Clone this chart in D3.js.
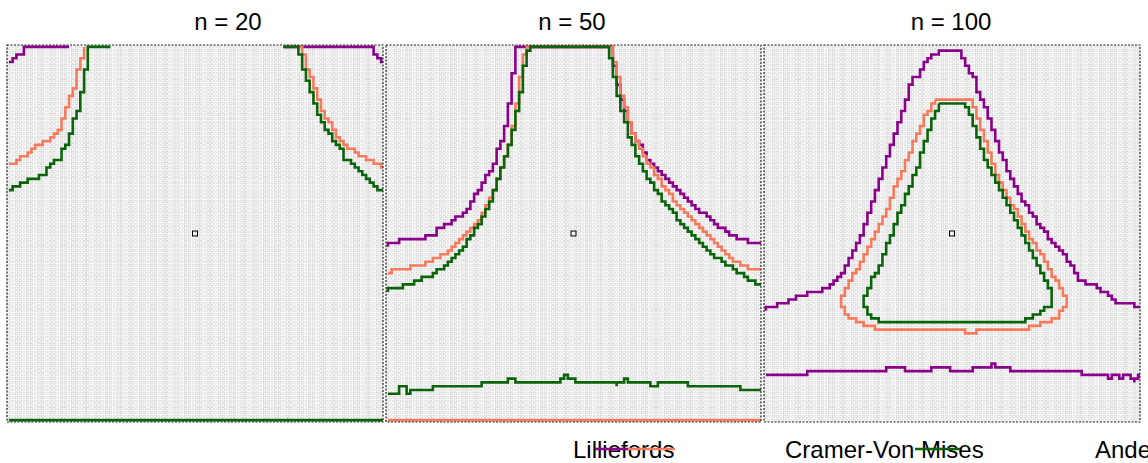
<!DOCTYPE html>
<html>
<head>
<meta charset="utf-8">
<script src="https://cdn.jsdelivr.net/npm/d3@7"></script>
<style>
  body { margin: 0; background: #fff; }
  svg { display: block; font-family: 'Liberation Sans', Arial, sans-serif; }
</style>
</head>
<body>
<div id="chart"></div>
<script>
// Panel titles and legend labels
const panelTitles = ['n = 20', 'n = 50', 'n = 100'];
const testNames = ['Lilliefords', 'Cramer-Von Mises', 'Anderson-Darling'];
const testColors = ['#8b008b', '#f67b5d', '#0a640a'];

// Boundary lines, per panel, per test (each is a list of pieces, grid units 0..100)
const lillie20 = [
  [[0,95.2],[1.5,96.6],[2.7,97.3],[4,98.7],[4.8,99.5],[16.8,99.5]],
  [[73.4,99.5],[97.1,99.5],[97.9,98],[98.7,97],[99.3,96],[100,96]]
];
const cvm20 = [
  [[0,68.2],[2.1,69.5],[4,70.8],[6.1,72.1],[8.8,73.5],[10.9,74.8],[12.8,76.7],[14.1,78.8],[14.9,80.6],[15.7,83.3],[16.5,85.4],[17.3,87.3],[18.1,89.4],[18.6,92],[19.1,94.7],[20,97.3],[20.7,99.5]],
  [[77.9,99.5],[79.3,96],[80.6,92],[81.9,88.1],[82.7,85.4],[83.8,82.8],[85.1,80.1],[86.7,77.5],[88.6,74.8],[90.7,72.7],[93.4,70.8],[96.5,69.5],[100,67.4]]
];
const ad20 = [
  [[0,61.5],[2.9,62.9],[4.8,63.7],[7.4,64.7],[10.1,66.3],[11.4,68.2],[13.3,70],[14.9,72.1],[16,74.8],[17,78],[17.8,80.6],[18.9,82.8],[19.4,85.4],[20.2,88.1],[20.7,90.7],[20.7,93.4],[21.5,95.5],[21.5,98.1],[21.8,99.5],[27.9,99.5]],
  [[73.4,99.5],[77.1,99.5],[77.9,97.3],[78.7,94.7],[79.5,91.2],[80.6,88.1],[81.4,85.4],[82.4,82.2],[83.8,79.6],[85.1,76.9],[86.7,74.3],[88.6,72.1],[89.9,70],[91.2,68.2],[93.4,66.3],[95.2,64.2],[97.1,62.9],[100,60.2]],
  [[0,0.3],[100,0.3]]
];

const lillie50 = [
  [[0,47],[3.7,48.3],[9.1,48.8],[13.1,50.4],[15.7,52.3],[18.4,54.1],[21.1,56.8],[22.9,58.9],[24.5,61.5],[26.4,64.2],[27.7,66.8],[29.1,69.5],[29.9,72.1],[30.9,74.8],[31.7,77.5],[32.5,81.4],[33.1,85.4],[33.6,89.4],[34.1,93.4],[34.4,97.3],[34.9,99.5],
   [59.7,99.5],[60.3,97.3],[61.1,93.4],[61.9,89.4],[62.9,85.4],[64,81.4],[65.1,78],[66.9,74.8],[69.1,70.8],[71.7,67.4],[74.4,64.2],[78.4,60.2],[82.4,56.8],[86.4,53.6],[90.4,50.4],[94.4,48.3],[100,47]]
];
const cvm50 = [
  [[0,39.8],[3.7,40.3],[9.1,41.6],[13.1,43.5],[16.5,45.6],[19.7,48.3],[22.4,51.5],[25.1,54.9],[27.2,58.9],[29.1,62.9],[30.4,66.8],[31.7,70.8],[33.1,74.8],[33.9,78.8],[34.7,82.8],[35.2,86.7],[35.7,90.7],[36.3,94.7],[36.8,97.3],[37.3,99.5],
   [60.3,99.5],[60.8,96],[61.6,92],[62.4,88.1],[63.5,84.1],[64.5,80.1],[65.9,76.1],[67.7,72.1],[69.9,68.2],[72.5,64.2],[75.2,60.2],[78.4,56.2],[82.4,52.3],[86.4,48.3],[90.4,44.3],[94.4,41.6],[100,39.8]],
  [[0,0.1],[100,0.1]]
];
const ad50 = [
  [[0,35],[3.7,35.8],[7.7,37.1],[11.7,39],[15.7,41.6],[19.2,45.1],[21.9,48.3],[24.5,52.3],[26.7,56.2],[28.5,60.2],[29.9,64.2],[31.2,68.2],[32.5,72.1],[33.6,76.1],[34.4,80.1],[35.2,84.1],[36,88.1],[36.5,92],[37.1,95.5],[37.9,98.1],[38.4,99.5],
   [59.2,99.5],[59.7,97.3],[60.5,93.4],[61.3,89.4],[62.1,85.4],[63.2,81.4],[64.3,77.5],[65.6,73.5],[67.2,69.5],[69.1,65.5],[71.7,61.5],[74.4,57.6],[77.9,53.6],[81.1,49.6],[85.1,45.6],[89.1,42.4],[93.1,39.8],[96.5,37.7],[100,35.5]],
  [[0.3,8],[3.7,8],[3.7,9.8],[5.1,9.8],[5.1,8],[7.2,9],[11.7,9],[17.1,9.5],[22.4,9.5],[25.1,10.1],[30.4,10.6],[33.1,11.4],[35.2,10.6],[41.1,10.6],[46.4,11.1],[47.7,12.2],[48.5,11.1],[54.4,10.6],[59.7,10.6],[61.1,9.8],[63.7,11.1],[67.7,10.6],[71.7,9.8],[74.4,10.6],[78.4,10.1],[83.7,9.8],[89.1,9.3],[94.4,9],[100,8.5]]
];

const lillie100 = [
  [[0,29.7],[2.9,30.8],[6.9,32.4],[10.9,33.7],[14.9,35],[18.1,36.9],[20.7,39.8],[22.9,43.5],[24.5,46.9],[26.1,50.9],[27.4,54.9],[28.7,58.9],[30.1,62.9],[31.4,66.8],[32.7,70.8],[34,74.8],[35.4,78.8],[36.7,82.8],[38,86.7],[39.4,90.2],[41,92.8],[42.8,95.5],[44.7,97.3],[46.8,98.7],
   [50.8,98.7],[52.1,97.3],[53.5,95.5],[54.8,92.8],[56.1,90.2],[57.4,86.7],[58.8,83.3],[60.1,79.6],[61.4,75.6],[62.8,71.6],[64.4,67.6],[66,63.7],[68.1,59.7],[70.7,55.7],[73.4,51.5],[76.6,47.5],[80.1,43.5],[82.7,39.8],[84,37.1],[87.2,36.3],[89.9,34.5],[91.5,33.7],[92.6,32.9],[93.9,31.8],[97.9,31.8],[98.7,30.8],[100,31.8]],
  [[0,12.2],[4.3,12.2],[6.9,13],[9.6,12.5],[12.2,13.3],[17.6,13.3],[22.9,13.8],[28.2,13.3],[33.5,14.3],[36.2,14.9],[37.5,13.8],[41.5,13.8],[46.8,14.3],[52.1,13.8],[57.4,14.3],[60.1,15.1],[62.8,14.3],[68.1,13.8],[73.4,13.8],[78.7,13.3],[84,13],[91.5,11.9],[92.8,13],[94.1,11.9],[95.2,13],[97.3,13],[98.1,10.6],[99.2,13],[100,13]]
];
const cvm100 = [
  [[45.5,85.4],[54.8,85.4],[56.1,82.8],[57.4,78.8],[58.8,74.8],[60.1,70.8],[61.4,66.8],[63.3,62.9],[65.4,58.9],[67.6,54.9],[69.7,50.9],[72.1,46.9],[74.7,42.4],[77.4,37.7],[79.5,34.5],[80.3,31],[78.2,27.6],[73.4,25.7],[70.7,24.9],[56.9,24.9],[56.1,23.3],[54.3,23.3],[53.5,24.9],[30.9,24.9],[25.5,26.5],[22.3,28.4],[20.7,31],[20.7,33.7],[22.9,37.7],[25,41.6],[27.1,45.6],[29.3,49.6],[31.4,53.6],[33,57.6],[34.8,62.9],[36.7,66.8],[38.3,70.8],[39.9,74.8],[41.5,78.8],[43.4,82.2],[45.5,85.4]]
];
const ad100 = [
  [[46.8,84.1],[53.5,84.1],[54.8,81.4],[56.1,77.5],[57.4,73.5],[58.8,69.5],[60.6,65.5],[62.8,61.5],[64.9,57.6],[66.8,53.6],[68.9,49.6],[70.7,45.6],[72.9,41.6],[74.7,37.7],[76.1,34.5],[76.1,31],[73.4,28.4],[68.1,26.5],[32.2,26.5],[28.2,28.4],[26.9,31],[26.9,33.7],[28.2,37.1],[30.1,40.8],[31.6,44.3],[33.2,48.3],[34.8,52.3],[36.2,56.2],[37.8,60.2],[39.4,64.2],[41,68.2],[42.3,72.1],[43.6,76.1],[44.9,80.1],[46.8,84.1]]
];

const panelLines = [
  [lillie20, cvm20, ad20],
  [lillie50, cvm50, ad50],
  [lillie100, cvm100, ad100]
];

// Layout
const W = 1148, H = 463;
const panelX = [[7, 383], [386, 761], [764, 1140]];
const panelTop = 45, panelBottom = 422;
const titleX = [228, 572, 951];
const gridN = 100;

// staircase curve: walks between points on the cell grid (cell size in px, origin ox/oy)
function curveStair(ox, oy, sx, sy) {
  function Stair(context) { this._context = context; }
  Stair.prototype = {
    areaStart: function() {},
    areaEnd: function() {},
    lineStart: function() { this._point = 0; },
    lineEnd: function() {},
    point: function(x, y) {
      const snapX = function(v) { return ox + Math.round((v - ox) / sx) * sx; };
      const snapY = function(v) { return oy + Math.round((v - oy) / sy) * sy; };
      if (!this._point) {
        this._point = 1;
        this._cx = snapX(x); this._cy = snapY(y);
        this._context.moveTo(this._cx, this._cy);
      } else {
        const x0 = this._x, y0 = this._y, dx = x - x0, dy = y - y0;
        const n = Math.max(1, Math.round(Math.max(Math.abs(dx) / sx, Math.abs(dy) / sy)));
        for (let k = 1; k <= n; k++) {
          const nx = snapX(x0 + dx * k / n), ny = snapY(y0 + dy * k / n);
          if (nx !== this._cx) { this._context.lineTo(nx, this._cy); this._cx = nx; }
          if (ny !== this._cy) { this._context.lineTo(this._cx, ny); this._cy = ny; }
        }
      }
      this._x = x; this._y = y;
    }
  };
  return function(context) { return new Stair(context); };
}

const svg = d3.select('#chart').append('svg')
  .attr('width', W).attr('height', H);

const gridVals = d3.range(gridN).map(function(i) { return i + 0.5; });
const cells = [];
gridVals.forEach(function(gx, i) {
  gridVals.forEach(function(gy) { cells.push({ x: gx, y: gy, kind: i % 3 }); });
});

panelTitles.forEach(function(title, p) {
  const x = d3.scaleLinear().domain([0, 100]).range(panelX[p]);
  const y = d3.scaleLinear().domain([0, 100]).range([panelBottom, panelTop]);
  const sx = x(1) - x(0), sy = y(0) - y(1);
  const line = d3.line()
    .x(function(d) { return x(d[0]); })
    .y(function(d) { return y(d[1]); })
    .curve(curveStair(x(0) + sx / 2, y(0) - sy / 2, sx, sy));

  const g = svg.append('g');

  g.append('clipPath').attr('id', 'clip' + p)
    .append('rect')
      .attr('x', panelX[p][0]).attr('y', panelTop)
      .attr('width', panelX[p][1] - panelX[p][0]).attr('height', panelBottom - panelTop);

  // background grid of points
  const cellSize = 2.4;
  g.append('g').selectAll('.pt')
    .data(cells)
    .enter()
    .append(function(d) {
      return document.createElementNS('http://www.w3.org/2000/svg', d.kind === 1 ? 'circle' : 'rect');
    })
      .each(function(d) {
        const el = d3.select(this);
        if (d.kind === 1) {
          el.attr('cx', x(d.x)).attr('cy', y(d.y)).attr('r', 1.2);
        } else {
          el.attr('x', x(d.x) - cellSize / 2).attr('y', y(d.y) - cellSize / 2)
            .attr('width', cellSize).attr('height', cellSize);
        }
      })
      .attr('fill', 'none')
      .attr('stroke', '#d2d2d2')
      .attr('stroke-width', 0.7);

  // boundary lines
  const lg = g.append('g').attr('clip-path', 'url(#clip' + p + ')');
  panelLines[p].forEach(function(pieces, t) {
    lg.selectAll(null)
      .data(pieces)
      .enter()
      .append('path')
        .attr('d', line)
        .attr('fill', 'none')
        .attr('stroke', testColors[t])
        .attr('stroke-width', 2.6);
  });

  // centre point
  g.append('rect')
    .attr('x', x(50) - 2.5).attr('y', y(50) - 2.5)
    .attr('width', 5).attr('height', 5)
    .attr('fill', 'none').attr('stroke', '#000').attr('stroke-width', 1);

  // panel frame
  g.append('rect')
    .attr('x', panelX[p][0]).attr('y', panelTop)
    .attr('width', panelX[p][1] - panelX[p][0]).attr('height', panelBottom - panelTop)
    .attr('fill', 'none').attr('stroke', '#222').attr('stroke-width', 1.2)
    .attr('stroke-dasharray', '2,1.5');

  svg.append('text')
    .attr('x', titleX[p]).attr('y', 30)
    .attr('text-anchor', 'middle')
    .attr('font-size', 24)
    .text(title);
});

// legend (as drawn in the source: labels with short segments overlapping them)
const legendX = [573, 785, 1095];
const legendSegs = [[595, 628], [628, 675], [915, 960]];
svg.selectAll('.leg')
  .data(testNames)
  .enter()
  .append('text')
    .attr('x', function(d, i) { return legendX[i]; })
    .attr('y', 458)
    .attr('font-size', 24)
    .text(function(d) { return d; });
svg.selectAll('.legline')
  .data(legendSegs)
  .enter()
  .append('line')
    .attr('x1', function(d) { return d[0]; }).attr('x2', function(d) { return d[1]; })
    .attr('y1', 449).attr('y2', 449)
    .attr('stroke', function(d, i) { return testColors[i]; })
    .attr('stroke-width', 2.6);
</script>
</body>
</html>
